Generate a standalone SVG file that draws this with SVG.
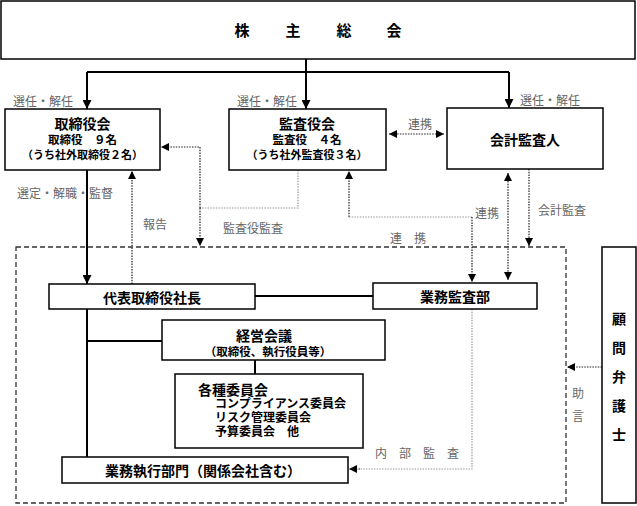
<svg xmlns="http://www.w3.org/2000/svg" width="637" height="506" viewBox="0 0 637 506">
<defs>
<style>
.box{fill:#fff;stroke:#000;stroke-width:1.5}
.t{font-family:"Noto Sans CJK JP","Noto Sans",sans-serif;font-weight:bold;fill:#000;dominant-baseline:central}
.c{text-anchor:middle}
.lbl{font-family:"Noto Sans CJK JP","Noto Sans",sans-serif;font-size:12px;fill:#666;dominant-baseline:central}
.solid{fill:none;stroke:#000;stroke-width:2}
.dot{fill:none;stroke:#222;stroke-width:1.2;stroke-dasharray:1.5 1.2}
.gdot{fill:none;stroke:#999;stroke-width:1.2;stroke-dasharray:1.5 1.2}
.dash{fill:none;stroke:#333;stroke-width:1.3;stroke-dasharray:5 3}
</style>
<marker id="ah" viewBox="0 0 10 10" refX="10" refY="5" markerWidth="9" markerHeight="9" markerUnits="userSpaceOnUse" orient="auto-start-reverse">
<path d="M0,0 L10,5 L0,10 z" fill="#000"/>
</marker>
<marker id="ahs" viewBox="0 0 10 10" refX="10" refY="5" markerWidth="8" markerHeight="8" markerUnits="userSpaceOnUse" orient="auto-start-reverse">
<path d="M0,0 L10,5 L0,10 z" fill="#000"/>
</marker>
</defs>
<rect width="637" height="506" fill="#fff"/>

<g id="connectors">
<path class="solid" d="M306,59 V72 M87,72 H509"/>
<path class="solid" d="M87,72 V109" marker-end="url(#ah)"/>
<path class="solid" d="M306,72 V109" marker-end="url(#ah)"/>
<path class="solid" d="M509,72 V108" marker-end="url(#ah)"/>
<path class="dot" d="M389,134 H444" marker-start="url(#ahs)" marker-end="url(#ahs)"/>
<path class="solid" d="M87,170 V284" marker-end="url(#ah)"/>
<path class="dot" d="M132,284 V171" marker-end="url(#ahs)"/>
<path class="gdot" d="M298,170 V208 H200"/>
<path class="dot" d="M200,208 V147 H161" marker-end="url(#ahs)"/>
<path class="dot" d="M200,208 V246" marker-end="url(#ahs)"/>
<path class="dot" d="M349,217 V171" marker-end="url(#ahs)"/>
<path class="gdot" d="M349,217 H472"/>
<path class="dot" d="M472,217 V282" marker-end="url(#ahs)"/>
<path class="dot" d="M508,173 V280" marker-start="url(#ahs)" marker-end="url(#ahs)"/>
<path class="dot" d="M529,169 V246" marker-end="url(#ahs)"/>
<path class="solid" d="M255,296 H373"/>
<path class="solid" d="M87,309 V457 M87,341 H162 M255,360 V374"/>
<path class="gdot" d="M472,309 V469 H360"/>
<path class="dot" d="M360,469 H349" marker-end="url(#ahs)"/>
<path class="dot" d="M602,367 H567" marker-end="url(#ahs)"/>
<rect class="dash" x="16" y="247" width="550" height="256"/>
<text class="lbl" x="13" y="100">選任・解任</text>
<text class="lbl" x="237" y="100">選任・解任</text>
<text class="lbl" x="520" y="99">選任・解任</text>
<text class="lbl c" x="420" y="123">連携</text>
<text class="lbl" x="17" y="192">選定・解職・監督</text>
<text class="lbl" x="143" y="223">報告</text>
<text class="lbl" x="223" y="227">監査役監査</text>
<text class="lbl" x="475" y="212">連携</text>
<text class="lbl" x="538" y="209">会計監査</text>
<text class="lbl c" x="408" y="237">連　携</text>
<text class="lbl c" x="417" y="452">内　部　監　査</text>
<text class="lbl c" x="578" y="392">助</text>
<text class="lbl c" x="578" y="415">言</text>
</g>

<g id="shareholders">
<rect class="box" x="1" y="1" width="634" height="58"/>
<text class="t c" x="242 293 344 394" y="29" font-size="15">株主総会</text>
</g>

<g id="board">
<rect class="box" x="5" y="109" width="155" height="61"/>
<text class="t c" x="82.5" y="123" font-size="14">取締役会</text>
<text class="t c" x="82.5" y="139" font-size="11.5">取締役　９名</text>
<text class="t c" x="82.5" y="154" font-size="11">（うち社外取締役２名）</text>
</g>

<g id="auditors">
<rect class="box" x="229" y="109" width="157" height="61"/>
<text class="t c" x="307" y="123" font-size="14">監査役会</text>
<text class="t c" x="307" y="139" font-size="11.5">監査役　４名</text>
<text class="t c" x="307" y="154" font-size="11">（うち社外監査役３名）</text>
</g>

<g id="accounting-auditor">
<rect class="box" x="447" y="108" width="156" height="61"/>
<text class="t c" x="525" y="139" font-size="14">会計監査人</text>
</g>

<g id="president">
<rect class="box" x="49" y="284" width="206" height="25"/>
<text class="t c" x="152" y="297" font-size="14">代表取締役社長</text>
</g>

<g id="internal-audit">
<rect class="box" x="373" y="283" width="164" height="26"/>
<text class="t c" x="455" y="296" font-size="14">業務監査部</text>
</g>

<g id="management-meeting">
<rect class="box" x="162" y="320" width="223" height="40"/>
<text class="t c" x="264" y="335" font-size="14">経営会議</text>
<text class="t c" x="268" y="351" font-size="11.5">（取締役、執行役員等）</text>
</g>

<g id="committees">
<rect class="box" x="175" y="374" width="188" height="74"/>
<text class="t" x="198" y="389" font-size="14">各種委員会</text>
<text class="t" x="215" y="402" font-size="12">コンプライアンス委員会</text>
<text class="t" x="215" y="416" font-size="12">リスク管理委員会</text>
<text class="t" x="215" y="430" font-size="12">予算委員会　他</text>
</g>

<g id="operations">
<rect class="box" x="62" y="457" width="286" height="26"/>
<text class="t c" x="203" y="470" font-size="14">業務執行部門（関係会社含む）</text>
</g>

<g id="lawyer">
<rect class="box" x="602" y="247" width="34" height="256"/>
<text class="t c" x="619" y="318" font-size="14">顧</text>
<text class="t c" x="619" y="347" font-size="14">問</text>
<text class="t c" x="619" y="376" font-size="14">弁</text>
<text class="t c" x="619" y="405" font-size="14">護</text>
<text class="t c" x="619" y="434" font-size="14">士</text>
</g>
</svg>
